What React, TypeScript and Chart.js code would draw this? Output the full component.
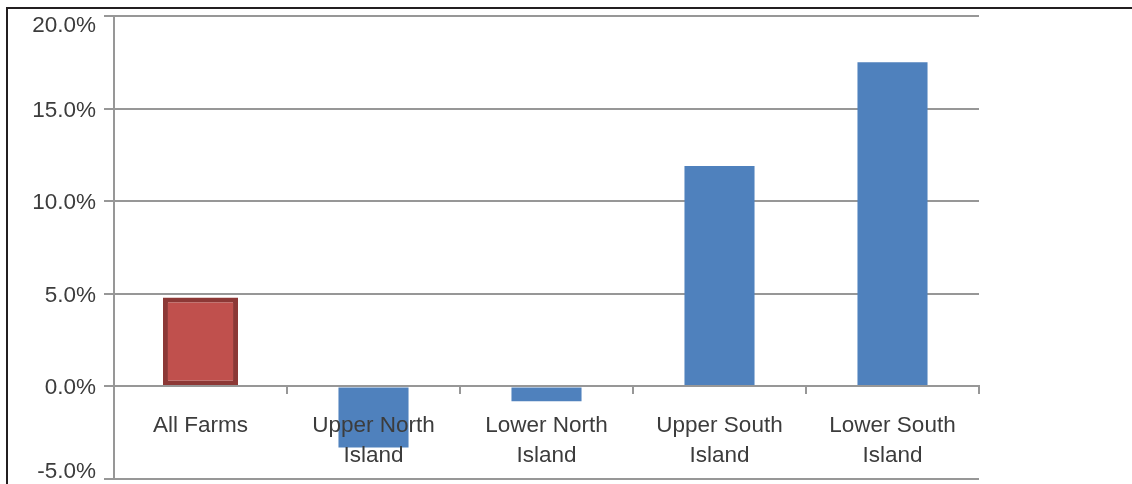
import React, { useEffect, useRef } from 'react';
import { Chart, registerables } from 'chart.js';

Chart.register(...registerables);

// Category labels, split over two lines where the region name is long
const categoryLines: string[][] = [
  ['All Farms'],
  ['Upper North', 'Island'],
  ['Lower North', 'Island'],
  ['Upper South', 'Island'],
  ['Lower South', 'Island'],
];

// Percentage change per category (first entry is the national total)
const changeValues: number[] = [4.8, -3.3, -0.8, 11.9, 17.5];

// Value axis range and step
const yMin = -5;
const yMax = 20;
const yStep = 5;

const TEXT_COLOR = '#3c3c3c';
const GRID_COLOR = '#979797';
const FONT_FAMILY = '"Liberation Sans", Arial, sans-serif';
const FONT_SIZE = 22.5;

const totalSeries = changeValues.map((v, i) => (i === 0 ? v : null));
const regionSeries = changeValues.map((v, i) => (i === 0 ? null : v));

const formatPct = (v: number) => `${v.toFixed(1)}%`;

// Draws the value-axis labels, keeping the end labels inside the plot height
const yLabelPlugin = {
  id: 'yTickLabels',
  afterDraw(chart: any) {
    const { ctx, chartArea, scales } = chart;
    const y = scales.y;
    ctx.save();
    ctx.font = `${FONT_SIZE}px ${FONT_FAMILY}`;
    ctx.fillStyle = TEXT_COLOR;
    ctx.textAlign = 'right';
    ctx.textBaseline = 'alphabetic';
    y.ticks.forEach((t: any) => {
      const py = y.getPixelForValue(t.value);
      const base = Math.min(Math.max(py + 8, chartArea.top + 15.5), chartArea.bottom - 1.5);
      ctx.fillText(formatPct(t.value), chartArea.left - 18, base);
    });
    ctx.restore();
  },
};

export default function App() {
  const canvasRef = useRef<HTMLCanvasElement | null>(null);

  useEffect(() => {
    const canvas = canvasRef.current;
    if (!canvas) return;
    const chart = new Chart(canvas, {
      type: 'bar',
      data: {
        labels: categoryLines,
        datasets: [
          {
            label: 'All Farms',
            data: totalSeries,
            backgroundColor: '#C0504D',
            borderColor: '#8C3836',
            borderWidth: 5,
            borderSkipped: false,
            barPercentage: 0.434,
            categoryPercentage: 1,
            grouped: false,
          },
          {
            label: 'Regions',
            data: regionSeries,
            backgroundColor: '#4F81BD',
            borderWidth: 0,
            barPercentage: 0.405,
            categoryPercentage: 1,
            grouped: false,
          },
        ],
      },
      options: {
        responsive: false,
        animation: false,
        layout: { padding: { left: 0, right: 153, top: 16, bottom: 5 } },
        plugins: {
          legend: { display: false },
          tooltip: { enabled: false },
        },
        scales: {
          x: {
            position: { y: 0 },
            offset: true,
            grid: {
              offset: true,
              drawOnChartArea: false,
              drawTicks: true,
              tickLength: 7,
              color: GRID_COLOR,
              lineWidth: 2,
              z: 1,
            },
            border: { display: true, color: GRID_COLOR, width: 2, z: 1 },
            ticks: {
              z: 1,
              color: TEXT_COLOR,
              padding: 17,
              maxRotation: 0,
              autoSkip: false,
              font: { family: FONT_FAMILY, size: FONT_SIZE, lineHeight: 30 / FONT_SIZE },
            },
          },
          y: {
            min: yMin,
            max: yMax,
            grid: {
              color: GRID_COLOR,
              lineWidth: 2,
              drawTicks: true,
              tickLength: 10,
            },
            border: { display: true, color: GRID_COLOR, width: 2 },
            ticks: { display: false, stepSize: yStep },
            afterFit: (scale: any) => {
              scale.width = 114;
            },
          },
        },
      },
      plugins: [yLabelPlugin],
    });
    return () => chart.destroy();
  }, []);

  return (
    <div style={{ position: 'absolute', left: 0, top: 0, width: 1132, height: 484, overflow: 'hidden', background: '#fff' }}>
      <div
        style={{
          position: 'absolute',
          left: 6,
          top: 7,
          right: -10,
          bottom: -10,
          borderTop: '2px solid #231f20',
          borderLeft: '2px solid #231f20',
        }}
      />
      <canvas ref={canvasRef} width={1132} height={484} style={{ position: 'absolute', left: 0, top: 0 }} />
    </div>
  );
}
